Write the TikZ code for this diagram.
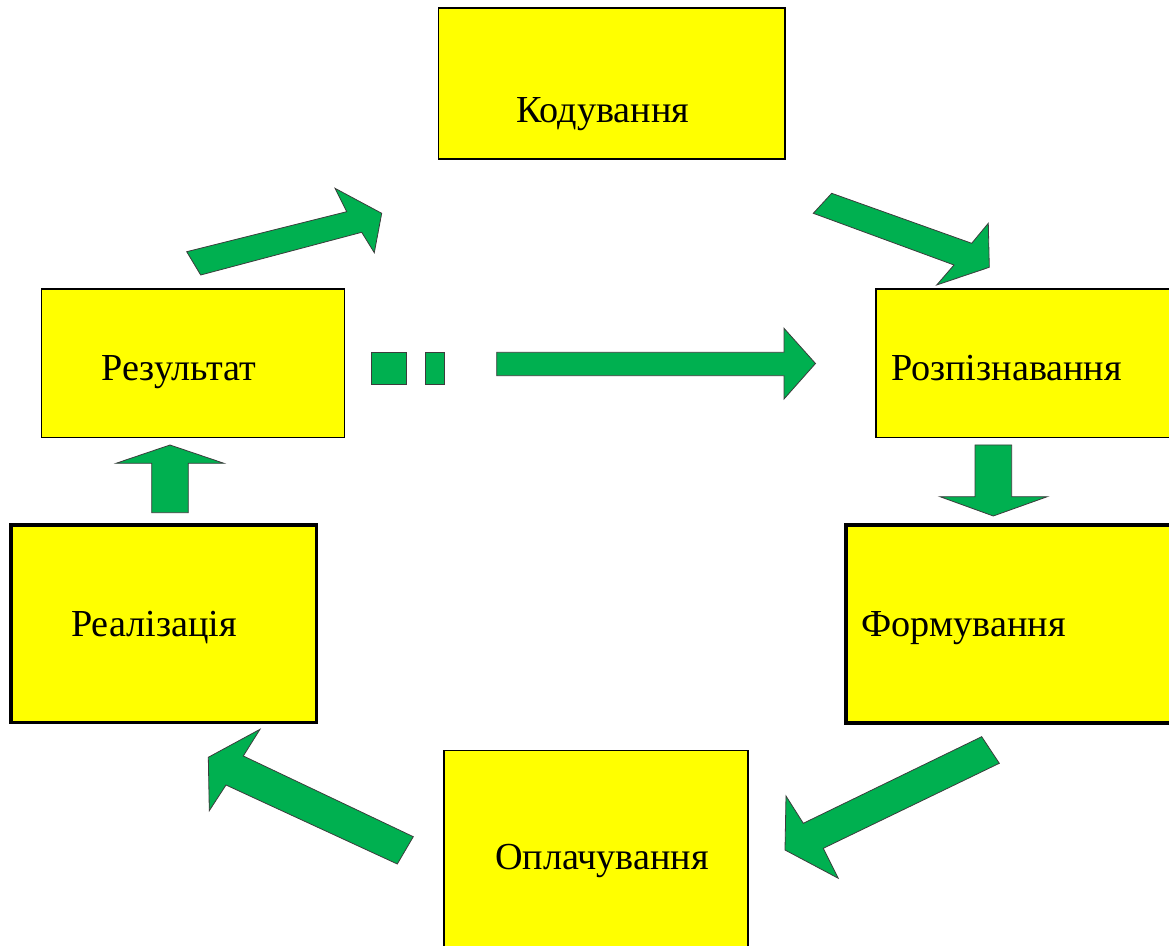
\documentclass[tikz,border=0pt]{standalone}
\usepackage{fontspec}
\setmainfont{Liberation Serif}
\definecolor{stagefill}{RGB}{255,255,0}
\definecolor{flowgreen}{RGB}{0,176,80}
\definecolor{flowedge}{RGB}{60,60,60}
\tikzset{
  stage/.style={draw=black, fill=stagefill, line width=0.7pt, inner sep=0pt, outer sep=0pt},
  stagebold/.style={stage, line width=1.8pt},
  caption/.style={inner sep=0pt, outer sep=0pt, anchor=base west, font=\fontsize{19.1}{23}\selectfont},
  flow/.style={fill=flowgreen, draw=flowedge, line width=0.4pt, line join=miter}
}
\begin{document}
\begin{tikzpicture}[x=0.5pt, y=-0.5pt]
\useasboundingbox (0,0) rectangle (1169,946);
\clip (0,0) rectangle (1169,946);

% stage boxes (sizes in pixel units, 1 unit = 0.5pt)
\node[stage, minimum width=173.25pt, minimum height=75.5pt] (kod) at (611.75,83.5) {};
\node[stage, minimum width=151.5pt, minimum height=74.25pt] (rez) at (193,363.25) {};
\node[stage, minimum width=200pt, minimum height=74.25pt] (roz) at (1076,363.25) {};
\node[stagebold, minimum width=152.75pt, minimum height=98.75pt] (real) at (163.75,623.75) {};
\node[stagebold, minimum width=200pt, minimum height=99pt] (form) at (1046,624) {};
\node[stage, minimum width=152pt, minimum height=120pt] (opl) at (596,870.5) {};

% captions
\node[caption] (kodtxt)  at (516,123) {Кодування};
\node[caption] (reztxt)  at (101.7,380.5) {Результат};
\node[caption] (roztxt)  at (891,381) {Розпізнавання};
\node[caption] (realtxt) at (71,637) {Реалізація};
\node[caption] (formtxt) at (861.7,637) {Формування};
\node[caption] (opltxt)  at (495,869.5) {Оплачування};

% block arrows of the cycle
% Результат -> Кодування
\draw[flow] (186.7,251.7) -- (346.7,211.7) -- (335,188.3) -- (381.7,213.3)
  -- (374.3,252.7) -- (361.7,232.3) -- (200.7,275) -- cycle;
% Кодування -> Розпізнавання
\draw[flow] (831.7,193.3) -- (971.7,243.3) -- (988.3,223.3) -- (989.3,267.3)
  -- (936.7,285) -- (954,265) -- (813.3,213.3) -- cycle;
% Розпізнавання -> Формування
\draw[flow] (975,445) -- (975,496.7) -- (940,496.7) -- (993.3,516)
  -- (1047.3,496.7) -- (1011.7,496.7) -- (1011.7,445) -- cycle;
% Формування -> Оплачування
\draw[flow] (981.7,736.7) -- (999.3,763.3) -- (823.3,848.3) -- (838.3,878.3)
  -- (785,850) -- (786,796) -- (803.3,823.3) -- cycle;
% Оплачування -> Реалізація
\draw[flow] (413.3,836.7) -- (397.3,864) -- (226,785) -- (209.3,810.7)
  -- (208.3,757.3) -- (260,729.3) -- (243.3,756) -- cycle;
% Реалізація -> Результат
\draw[flow] (151.7,512.7) -- (151.7,463.3) -- (116,463.3) -- (170,445)
  -- (224,463.3) -- (188.3,463.3) -- (188.3,512.7) -- cycle;

% broken arrow Результат -> Розпізнавання
\draw[flow] (371.7,352.3) rectangle (406,384);
\draw[flow] (425,352.3) rectangle (444.3,384);
\draw[flow] (496.7,352.3) -- (784,352.3) -- (784,328.3) -- (815.5,363.5)
  -- (784,399) -- (784,375.7) -- (496.7,375.7) -- cycle;
\end{tikzpicture}
\end{document}
